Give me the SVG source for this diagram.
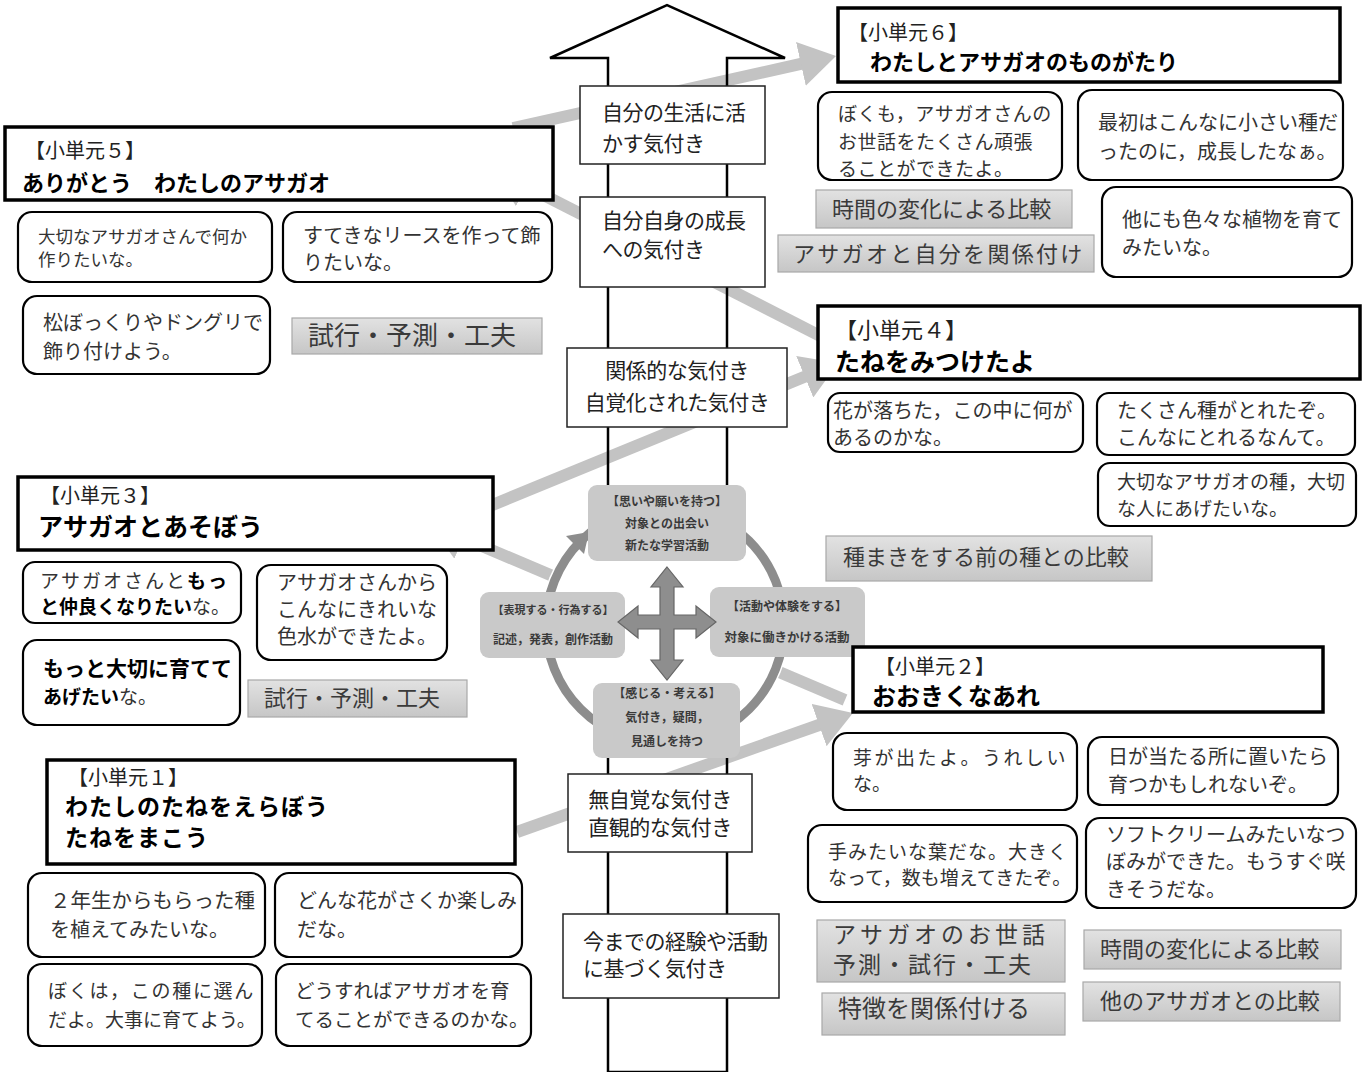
<svg xmlns="http://www.w3.org/2000/svg" width="1366" height="1072" viewBox="0 0 1366 1072">
<defs>
<style>
text{font-family:"Noto Sans CJK JP","Noto Sans",sans-serif;fill:#222}
.unit rect{fill:#fff;stroke:#000;stroke-width:3.5}
.ut{font-size:20px}
.tt{font-size:24px;font-weight:bold;fill:#000}
.bub rect{fill:#fff;stroke:#000;stroke-width:2.2}
.bt{font-size:20px;fill:#333}
.gl rect{fill:url(#gg);stroke:#a8a8a8;stroke-width:1.2}
.gt{font-size:22px;fill:#3a3a3a}
.lab rect{fill:#fff;stroke:#222;stroke-width:1.5}
.at{font-size:21px;fill:#222;letter-spacing:-0.5px}
.cb rect{fill:#c9c9c9}
.ct{font-size:12px;font-weight:bold;fill:#3a3a3a;text-anchor:middle}
.con{stroke:#c3c3c3;stroke-width:12;fill:none;marker-end:url(#ah)}
</style>
<linearGradient id="gg" x1="0" y1="0" x2="0" y2="1">
<stop offset="0" stop-color="#e2e2e2"/>
<stop offset="1" stop-color="#c6c6c6"/>
</linearGradient>
<marker id="ah" viewBox="0 0 8 10" refX="1" refY="5" markerWidth="3" markerHeight="3.75" orient="auto" markerUnits="strokeWidth">
<path d="M0,0 L8,5 L0,10 z" fill="#c3c3c3"/>
</marker>
</defs>
<rect width="1366" height="1072" fill="#fff"/>

<g id="connectors">
<line class="con" x1="517" y1="832" x2="823.3" y2="723.5"/>
<line class="con" x1="845" y1="700" x2="459" y2="536.3"/>
<line class="con" x1="490" y1="506" x2="808.9" y2="375"/>
<line class="con" x1="832" y1="342" x2="522.2" y2="184.1"/>
<line class="con" x1="513" y1="128" x2="805.3" y2="62.9"/>
</g>

<g id="big-arrow">
<polygon points="608,1072 608,58 550,58 667,5 785,58 727,58 727,1072" fill="none" stroke="#000" stroke-width="2.5"/>
</g>

<g id="label-1" class="lab"><rect x="580" y="86" width="185" height="78"/>
<text class="at" x="602" y="120">自分の生活に活</text><text class="at" x="602" y="151">かす気付き</text></g>
<g id="label-2" class="lab"><rect x="580" y="197" width="185" height="90"/>
<text class="at" x="602" y="228">自分自身の成長</text><text class="at" x="602" y="257">への気付き</text></g>
<g id="label-3" class="lab"><rect x="567" y="348" width="220" height="79"/>
<text class="at" x="677" y="378" text-anchor="middle">関係的な気付き</text><text class="at" x="677" y="410" text-anchor="middle">自覚化された気付き</text></g>
<g id="label-4" class="lab"><rect x="568" y="774" width="184" height="78"/>
<text class="at" x="660" y="807" text-anchor="middle">無自覚な気付き</text><text class="at" x="660" y="835" text-anchor="middle">直観的な気付き</text></g>
<g id="label-5" class="lab"><rect x="563" y="914" width="216" height="84"/>
<text class="at" x="583" y="949">今までの経験や活動</text><text class="at" x="583" y="976">に基づく気付き</text></g>

<g id="cycle">
<circle cx="665" cy="625" r="125" fill="#fff"/>
<circle cx="665" cy="625" r="119" fill="none" stroke="#8d8d8d" stroke-width="9"/>
<polygon points="589,532 566,536 584,554" fill="#8d8d8d"/>
<g id="cycle-top" class="cb"><rect x="588" y="485" width="158" height="76" rx="9"/>
<text class="ct" x="667" y="506">【思いや願いを持つ】</text><text class="ct" x="667" y="528">対象との出会い</text><text class="ct" x="667" y="550">新たな学習活動</text></g>
<g id="cycle-right" class="cb"><rect x="710" y="587" width="155" height="70" rx="9"/>
<text class="ct" x="787" y="611">【活動や体験をする】</text><text class="ct" x="787" y="642" style="font-size:12.5px">対象に働きかける活動</text></g>
<g id="cycle-bottom" class="cb"><rect x="593" y="683" width="147" height="75" rx="9"/>
<text class="ct" x="667" y="698">【感じる・考える】</text><text class="ct" x="667" y="722">気付き，疑問，</text><text class="ct" x="667" y="746">見通しを持つ</text></g>
<g id="cycle-left" class="cb"><rect x="480" y="592" width="145" height="66" rx="9"/>
<text class="ct" x="553" y="614" style="font-size:11px">【表現する・行為する】</text><text class="ct" x="553" y="644">記述，発表，創作活動</text></g>
<polygon points="667,567 683,587 674,587 674,615 696,615 696,606 716,622 696,638 696,629 674,629 674,660 683,660 667,680 651,660 660,660 660,629 638,629 638,638 618,622 638,606 638,615 660,615 660,587 651,587" fill="#8e8e8e" stroke="#666" stroke-width="1.2"/>
</g>

<g id="unit6">
<g class="unit"><rect x="838" y="8" width="502" height="74"/></g>
<text class="ut" x="848" y="40">【小単元６】</text>
<text class="tt" x="870" y="70" style="font-size:22px">わたしとアサガオのものがたり</text>
<g class="bub"><rect x="818" y="92" width="244" height="88" rx="14"/></g>
<text class="bt" x="838" y="121" style="font-size:19px;letter-spacing:0.5px">ぼくも，アサガオさんの</text>
<text class="bt" x="838" y="149" style="font-size:19px;letter-spacing:0.5px">お世話をたくさん頑張</text>
<text class="bt" x="838" y="176" style="font-size:19px;letter-spacing:0.5px">ることができたよ。</text>
<g class="bub"><rect x="1078" y="90" width="265" height="90" rx="14"/></g>
<text class="bt" x="1098" y="130">最初はこんなに小さい種だ</text>
<text class="bt" x="1098" y="159">ったのに，成長したなぁ。</text>
<g class="bub"><rect x="1102" y="187" width="250" height="90" rx="14"/></g>
<text class="bt" x="1122" y="227">他にも色々な植物を育て</text>
<text class="bt" x="1122" y="255">みたいな。</text>
<g class="gl"><rect x="816" y="190" width="256" height="38"/></g>
<text class="gt" x="832" y="217">時間の変化による比較</text>
<g class="gl"><rect x="778" y="235" width="316" height="37"/></g>
<text class="gt" x="793" y="262" style="letter-spacing:2.3px">アサガオと自分を関係付け</text>
</g>

<g id="unit5">
<g class="unit"><rect x="5" y="127" width="548" height="73"/></g>
<text class="ut" x="25" y="158">【小単元５】</text>
<text class="tt" x="22" y="191" style="font-size:22px">ありがとう　わたしのアサガオ</text>
<g class="bub"><rect x="18" y="212" width="254" height="70" rx="14"/></g>
<text class="bt" x="38" y="243" style="font-size:17.5px">大切なアサガオさんで何か</text>
<text class="bt" x="38" y="266" style="font-size:17.5px">作りたいな。</text>
<g class="bub"><rect x="283" y="212" width="269" height="70" rx="14"/></g>
<text class="bt" x="303" y="243">すてきなリースを作って飾</text>
<text class="bt" x="303" y="270">りたいな。</text>
<g class="bub"><rect x="23" y="296" width="247" height="78" rx="14"/></g>
<text class="bt" x="43" y="330">松ぼっくりやドングリで</text>
<text class="bt" x="43" y="359">飾り付けよう。</text>
<g class="gl"><rect x="292" y="318" width="250" height="36"/></g>
<text class="gt" x="308" y="345" style="font-size:26px">試行・予測・工夫</text>
</g>

<g id="unit4">
<g class="unit"><rect x="818" y="306" width="542" height="73"/></g>
<text class="ut" x="835" y="338" style="font-size:22px">【小単元４】</text>
<text class="tt" x="835" y="371" style="font-size:25px">たねをみつけたよ</text>
<g class="bub"><rect x="828" y="393" width="255" height="59" rx="12"/></g>
<text class="bt" x="833" y="418">花が落ちた，この中に何が</text>
<text class="bt" x="833" y="445">あるのかな。</text>
<g class="bub"><rect x="1097" y="393" width="258" height="62" rx="12"/></g>
<text class="bt" x="1117" y="418">たくさん種がとれたぞ。</text>
<text class="bt" x="1117" y="445">こんなにとれるなんて。</text>
<g class="bub"><rect x="1098" y="463" width="258" height="63" rx="12"/></g>
<text class="bt" x="1117" y="489" style="font-size:19px">大切なアサガオの種，大切</text>
<text class="bt" x="1117" y="516" style="font-size:19px">な人にあげたいな。</text>
<g class="gl"><rect x="826" y="536" width="326" height="45"/></g>
<text class="gt" x="843" y="565">種まきをする前の種との比較</text>
</g>

<g id="unit3">
<g class="unit"><rect x="18" y="477" width="475" height="73"/></g>
<text class="ut" x="40" y="503">【小単元３】</text>
<text class="tt" x="38" y="536" style="font-size:25px">アサガオとあそぼう</text>
<g class="bub"><rect x="23" y="562" width="218" height="61" rx="12"/></g>
<text class="bt" x="40" y="588" style="font-size:19px;letter-spacing:2px">アサガオさんと<tspan font-weight="bold" fill="#000">もっ</tspan></text>
<text class="bt" x="40" y="614" style="font-size:19px"><tspan font-weight="bold" fill="#000">と仲良くなりたい</tspan>な。</text>
<g class="bub"><rect x="257" y="565" width="190" height="95" rx="14"/></g>
<text class="bt" x="277" y="590">アサガオさんから</text>
<text class="bt" x="277" y="617">こんなにきれいな</text>
<text class="bt" x="277" y="644">色水ができたよ。</text>
<g class="bub"><rect x="23" y="640" width="217" height="85" rx="14"/></g>
<text class="bt" x="43" y="676" style="font-size:21px;font-weight:bold;fill:#000">もっと大切に育てて</text>
<text class="bt" x="43" y="704" style="font-size:19px"><tspan font-weight="bold" fill="#000">あげたい</tspan>な。</text>
<g class="gl"><rect x="248" y="680" width="219" height="37"/></g>
<text class="gt" x="264" y="706">試行・予測・工夫</text>
</g>

<g id="unit2">
<g class="unit"><rect x="853" y="647" width="470" height="65"/></g>
<text class="ut" x="875" y="674">【小単元２】</text>
<text class="tt" x="872" y="705">おおきくなあれ</text>
<g class="bub"><rect x="833" y="733" width="244" height="77" rx="14"/></g>
<text class="bt" x="853" y="765" style="font-size:19px;letter-spacing:2.5px">芽が出たよ。うれしい</text>
<text class="bt" x="853" y="791" style="font-size:19px">な。</text>
<g class="bub"><rect x="1088" y="737" width="250" height="68" rx="14"/></g>
<text class="bt" x="1108" y="764">日が当たる所に置いたら</text>
<text class="bt" x="1108" y="792">育つかもしれないぞ。</text>
<g class="bub"><rect x="808" y="825" width="269" height="77" rx="14"/></g>
<text class="bt" x="828" y="859" style="font-size:19px;letter-spacing:1px">手みたいな葉だな。大きく</text>
<text class="bt" x="828" y="885" style="font-size:19px">なって，数も増えてきたぞ。</text>
<g class="bub"><rect x="1086" y="818" width="270" height="90" rx="14"/></g>
<text class="bt" x="1106" y="842">ソフトクリームみたいなつ</text>
<text class="bt" x="1106" y="869">ぼみができた。もうすぐ咲</text>
<text class="bt" x="1106" y="897">きそうだな。</text>
<g class="gl"><rect x="817" y="920" width="248" height="62"/></g>
<text class="gt" x="833" y="943" style="font-size:23px;letter-spacing:4px">アサガオのお世話</text>
<text class="gt" x="833" y="973" style="font-size:23px;letter-spacing:2px">予測・試行・工夫</text>
<g class="gl"><rect x="822" y="993" width="243" height="42"/></g>
<text class="gt" x="838" y="1017" style="font-size:24px">特徴を関係付ける</text>
<g class="gl"><rect x="1084" y="930" width="257" height="39"/></g>
<text class="gt" x="1100" y="957">時間の変化による比較</text>
<g class="gl"><rect x="1083" y="982" width="257" height="39"/></g>
<text class="gt" x="1100" y="1009">他のアサガオとの比較</text>
</g>

<g id="unit1">
<g class="unit"><rect x="47" y="760" width="468" height="104"/></g>
<text class="ut" x="68" y="785">【小単元１】</text>
<text class="tt" x="65" y="815" style="font-size:23px;letter-spacing:1px">わたしのたねをえらぼう</text>
<text class="tt" x="65" y="846" style="font-size:23px;letter-spacing:1px">たねをまこう</text>
<g class="bub"><rect x="28" y="873" width="237" height="84" rx="14"/></g>
<text class="bt" x="50" y="908" style="font-size:20.5px">２年生からもらった種</text>
<text class="bt" x="50" y="937">を植えてみたいな。</text>
<g class="bub"><rect x="275" y="873" width="247" height="84" rx="14"/></g>
<text class="bt" x="297" y="908">どんな花がさくか楽しみ</text>
<text class="bt" x="297" y="937">だな。</text>
<g class="bub"><rect x="28" y="964" width="234" height="82" rx="14"/></g>
<text class="bt" x="48" y="998" style="font-size:19px;letter-spacing:1.7px">ぼくは，この種に選ん</text>
<text class="bt" x="48" y="1027" style="font-size:19px">だよ。大事に育てよう。</text>
<g class="bub"><rect x="276" y="964" width="255" height="82" rx="14"/></g>
<text class="bt" x="295" y="998" style="font-size:19.5px">どうすればアサガオを育</text>
<text class="bt" x="295" y="1027" style="font-size:19.5px">てることができるのかな。</text>
</g>
</svg>
